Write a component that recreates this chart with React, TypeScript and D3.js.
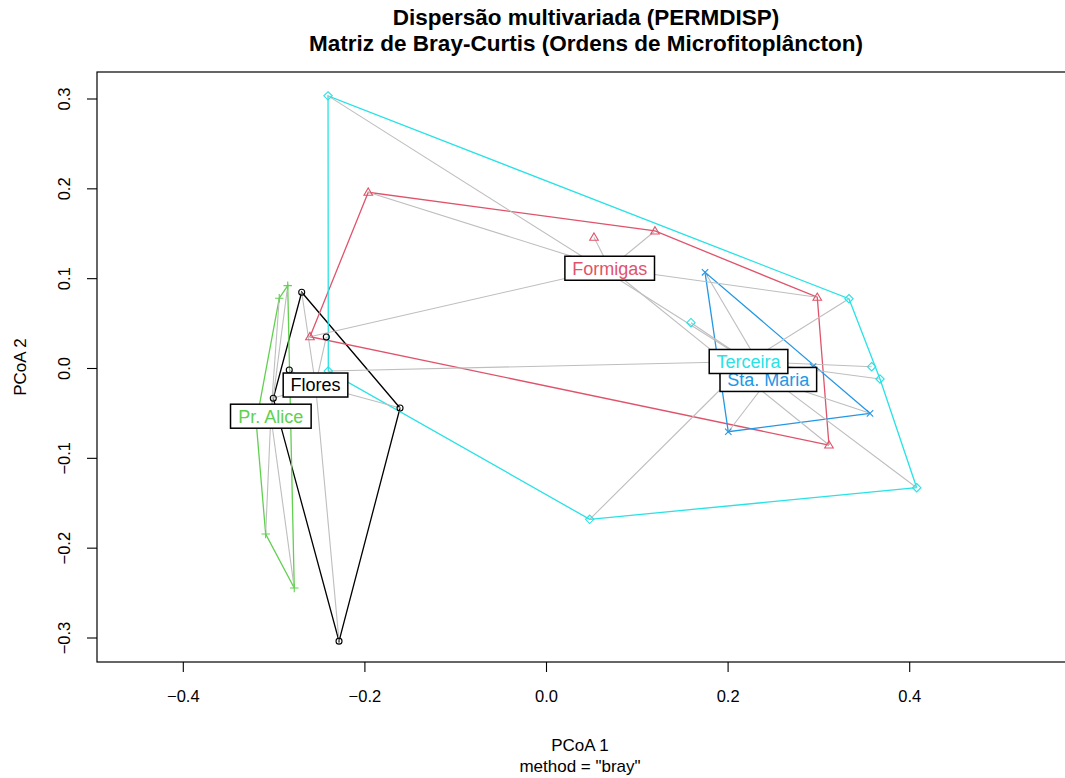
import React from "react";
import * as d3 from "d3";

// Groups (alphabetical, as in the betadisper output) and their colours
const groupNames = ["Flores", "Formigas", "Pr. Alice", "Sta. Maria", "Terceira"];
const groupColors = ["#000000", "#DF536B", "#61D04F", "#2297E6", "#28E2E5"];

// PCoA site scores per group: [PCoA 1, PCoA 2]
const floresSites: [number, number][] = [
  [-0.2696, 0.0849],
  [-0.2425, 0.0351],
  [-0.2833, -0.0017],
  [-0.3009, -0.0332],
  [-0.1613, -0.044],
  [-0.2285, -0.3035],
];
const formigasSites: [number, number][] = [
  [-0.1963, 0.1962],
  [-0.2605, 0.0354],
  [0.0523, 0.1461],
  [0.1195, 0.1531],
  [0.2982, 0.0793],
  [0.3111, -0.0852],
];
const prAliceSites: [number, number][] = [
  [-0.285, 0.0922],
  [-0.2943, 0.0782],
  [-0.3197, -0.06],
  [-0.3093, -0.1843],
  [-0.2778, -0.2444],
];
const staMariaSites: [number, number][] = [
  [0.1746, 0.1071],
  [0.2002, -0.0704],
  [0.3563, -0.0499],
  [0.2935, 0.0022],
];
const terceiraSites: [number, number][] = [
  [-0.2406, 0.3035],
  [-0.2403, -0.0028],
  [0.1591, 0.051],
  [0.0476, -0.1679],
  [0.3331, 0.0777],
  [0.3581, 0.002],
  [0.3673, -0.0117],
  [0.4077, -0.1327],
];

// Group centroids (where the labels sit)
const centroids: [number, number][] = [
  [-0.2544, -0.0184],
  [0.0696, 0.1116],
  [-0.3036, -0.0531],
  [0.2443, -0.0122],
  [0.2225, 0.0078],
];

const xTicks = [-0.4, -0.2, 0.0, 0.2, 0.4];
const yTicks = [-0.3, -0.2, -0.1, 0.0, 0.1, 0.2, 0.3];

const titleLines = [
  "Dispersão multivariada (PERMDISP)",
  "Matriz de Bray-Curtis (Ordens de Microfitoplâncton)",
];
const xLabel = "PCoA 1";
const subLabel = 'method = "bray"';
const yLabel = "PCoA 2";

const groupSites = [floresSites, formigasSites, prAliceSites, staMariaSites, terceiraSites];

const W = 1065;
const H = 778;
const frame = { left: 97, top: 72, right: 1075, bottom: 662 };
const FONT = "'Liberation Sans', Arial, Helvetica, sans-serif";

const x = d3.scaleLinear().domain([-0.4, 0.4]).range([183.3, 909.7]);
const y = d3.scaleLinear().domain([-0.3, 0.3]).range([638, 99]);

let measureCtx: CanvasRenderingContext2D | null = null;
function textWidth(text: string, font: string): number {
  if (!measureCtx) {
    const c = document.createElement("canvas");
    measureCtx = c.getContext("2d");
  }
  if (!measureCtx) return text.length * 9;
  measureCtx.font = font;
  return measureCtx.measureText(text).width;
}

// R plotting symbols: pch 1 (circle), 2 (triangle), 3 (plus), 4 (cross), 5 (diamond)
function Symbol({ g, cx, cy, color }: { g: number; cx: number; cy: number; color: string }) {
  const common = { stroke: color, strokeWidth: 1.1, fill: "none" };
  if (g === 0) return <circle cx={cx} cy={cy} r={3} {...common} />;
  if (g === 1) {
    const s = 4.3;
    return (
      <path
        d={`M${cx},${cy - s}L${cx + s},${cy + s * 0.7}L${cx - s},${cy + s * 0.7}Z`}
        {...common}
      />
    );
  }
  if (g === 2) {
    const s = 4.2;
    return <path d={`M${cx - s},${cy}H${cx + s}M${cx},${cy - s}V${cy + s}`} {...common} />;
  }
  if (g === 3) {
    const s = 3.2;
    return (
      <path
        d={`M${cx - s},${cy - s}L${cx + s},${cy + s}M${cx - s},${cy + s}L${cx + s},${cy - s}`}
        {...common}
      />
    );
  }
  const s = 4.2;
  return (
    <path d={`M${cx},${cy - s}L${cx + s},${cy}L${cx},${cy + s}L${cx - s},${cy}Z`} {...common} />
  );
}

export default function App() {
  const labelFont = `18px ${FONT}`;
  const line = d3.line<[number, number]>().x((d) => x(d[0])).y((d) => y(d[1]));

  return (
    <svg
      width={W}
      height={H}
      style={{ position: "absolute", left: 0, top: 0, background: "#fff" }}
      fontFamily={FONT}
    >
      <rect x={0} y={0} width={W} height={H} fill="#fff" />

      {/* titles */}
      {titleLines.map((t, i) => (
        <text
          key={t}
          x={586}
          y={25 + i * 26}
          textAnchor="middle"
          fontWeight="bold"
          fontSize={22.5}
          fill="#000"
        >
          {t}
        </text>
      ))}

      {/* convex hulls */}
      {groupSites.map((pts, g) => {
        const hull = d3.polygonHull(pts);
        if (!hull) return null;
        const closed = [...hull, hull[0]] as [number, number][];
        return (
          <path
            key={"hull" + g}
            d={line(closed) || ""}
            fill="none"
            stroke={groupColors[g]}
            strokeWidth={1.3}
          />
        );
      })}

      {/* segments to centroids */}
      {groupSites.map((pts, g) =>
        pts.map((p, i) => (
          <line
            key={`seg${g}-${i}`}
            x1={x(centroids[g][0])}
            y1={y(centroids[g][1])}
            x2={x(p[0])}
            y2={y(p[1])}
            stroke="#BEBEBE"
            strokeWidth={1.1}
          />
        ))
      )}

      {/* sites */}
      {groupSites.map((pts, g) =>
        pts.map((p, i) => (
          <Symbol key={`pt${g}-${i}`} g={g} cx={x(p[0])} cy={y(p[1])} color={groupColors[g]} />
        ))
      )}

      {/* centroid labels */}
      {groupNames.map((name, g) => {
        const cx = x(centroids[g][0]);
        const cy = y(centroids[g][1]);
        const w = textWidth(name, labelFont) + 14.6;
        const h = 24;
        return (
          <g key={"lab" + g}>
            <rect
              x={cx - w / 2}
              y={cy - h / 2}
              width={w}
              height={h}
              fill="#fff"
              stroke="#000"
              strokeWidth={1.5}
            />
            <text x={cx} y={cy + 6.4} textAnchor="middle" fontSize={18} fill={groupColors[g]}>
              {name}
            </text>
          </g>
        );
      })}

      {/* frame */}
      <rect
        x={frame.left}
        y={frame.top}
        width={frame.right - frame.left}
        height={frame.bottom - frame.top}
        fill="none"
        stroke="#000"
        strokeWidth={1.2}
      />

      {/* x axis */}
      {xTicks.map((t) => (
        <g key={"xt" + t}>
          <line x1={x(t)} x2={x(t)} y1={frame.bottom} y2={frame.bottom + 10} stroke="#000" strokeWidth={1.1} />
          <text x={x(t)} y={frame.bottom + 40} textAnchor="middle" fontSize={16.5} fill="#000">
            {d3.format(".1f")(t)}
          </text>
        </g>
      ))}
      <text x={580} y={751} textAnchor="middle" fontSize={17} fill="#000">
        {xLabel}
      </text>
      <text x={580} y={772} textAnchor="middle" fontSize={17} fill="#000">
        {subLabel}
      </text>

      {/* y axis */}
      {yTicks.map((t) => (
        <g key={"yt" + t}>
          <line x1={frame.left - 10} x2={frame.left} y1={y(t)} y2={y(t)} stroke="#000" strokeWidth={1.1} />
          <text
            transform={`translate(${frame.left - 27},${y(t)}) rotate(-90)`}
            textAnchor="middle"
            fontSize={16.5}
            fill="#000"
          >
            {d3.format(".1f")(t)}
          </text>
        </g>
      ))}
      <text
        transform={`translate(26,${(frame.top + frame.bottom) / 2}) rotate(-90)`}
        textAnchor="middle"
        fontSize={17}
        fill="#000"
      >
        {yLabel}
      </text>
    </svg>
  );
}
